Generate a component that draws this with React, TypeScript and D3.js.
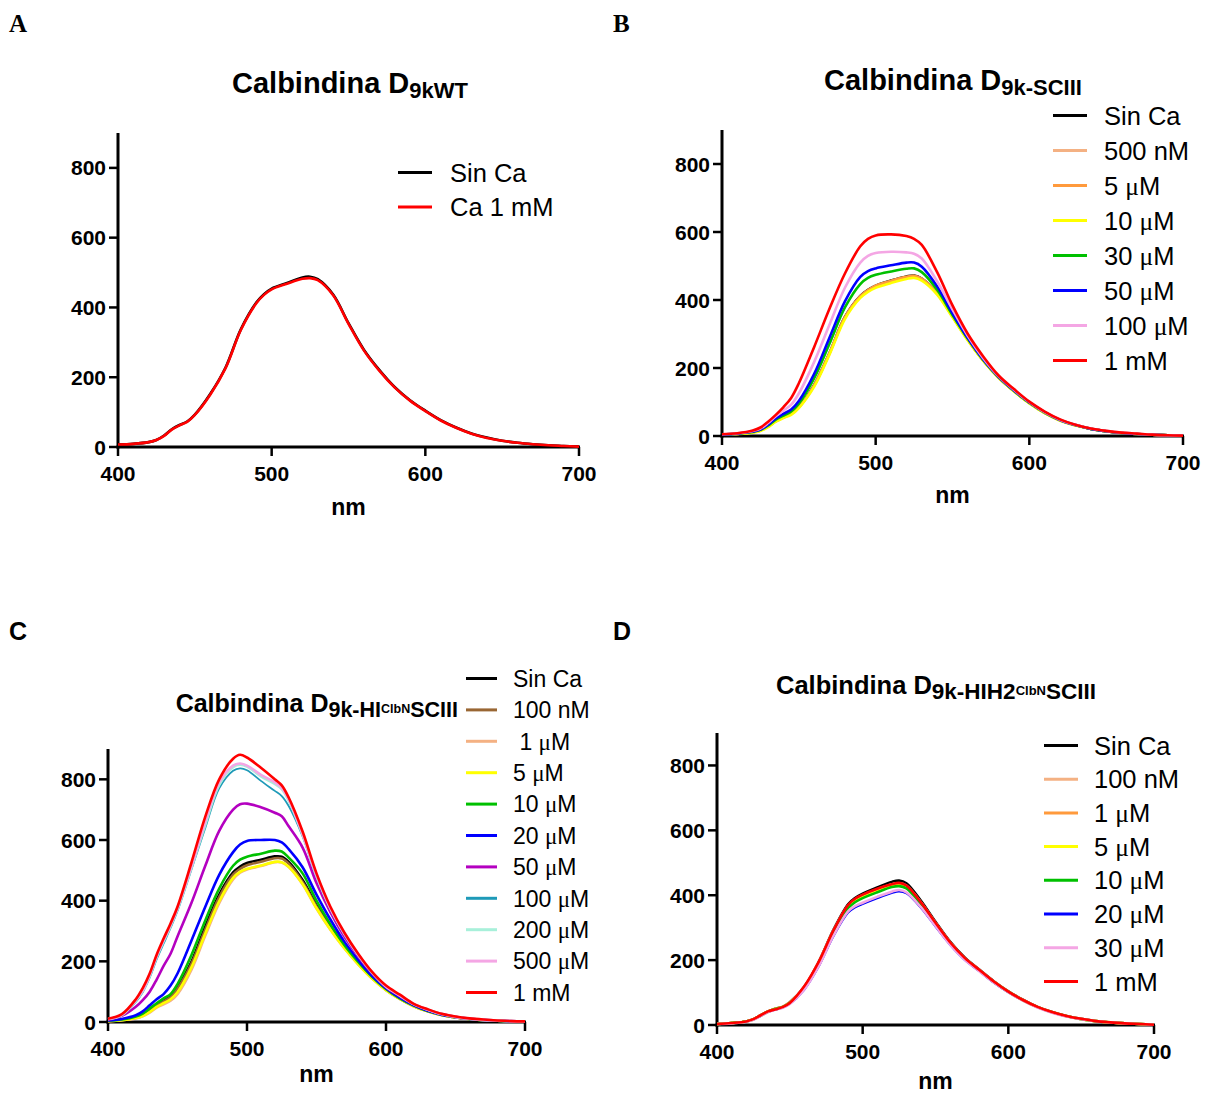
import React from "react";
import * as d3 from "d3";

// ---------- data ----------
const WL = [400, 410, 420, 425, 430, 435, 440, 445, 450, 460, 470, 480, 490, 495, 500, 510, 520, 525, 530, 540, 550, 560, 570, 580, 590, 600, 610, 620, 630, 640, 650, 660, 670, 680, 690, 700];
const Y_TICKS = [0, 200, 400, 600, 800];
const X_TICKS = [400, 500, 600, 700];

// Panel A
const A_SIN_CA = [7, 9, 14, 20, 33, 51, 63, 73, 93, 152, 228, 338, 414, 438, 454, 470, 486, 488, 481, 437, 355, 279, 221, 172, 134, 104, 77, 56, 39, 27, 18, 12, 8, 5, 3, 1];
const A_CA_1MM = [7, 9, 14, 20, 32, 50, 62, 72, 92, 150, 226, 336, 412, 436, 452, 468, 482, 484, 478, 435, 353, 277, 219, 171, 133, 103, 76, 55, 38, 26, 18, 12, 8, 5, 3, 1];

// Panel B
const B_SIN_CA = [4, 6, 11, 16, 28, 44, 55, 65, 85, 150, 245, 350, 412, 430, 442, 457, 469, 472, 463, 420, 352, 283, 222, 172, 132, 97, 68, 46, 32, 21, 14, 9, 6, 4, 2, 1];
const B_500NM = [4, 6, 11, 16, 28, 43, 54, 64, 84, 148, 243, 348, 410, 428, 441, 456, 467, 470, 462, 419, 351, 282, 222, 172, 132, 97, 68, 46, 32, 21, 14, 9, 6, 4, 2, 1];
const B_5UM = [4, 6, 11, 16, 28, 44, 55, 65, 85, 149, 244, 349, 411, 429, 442, 456, 468, 471, 462, 420, 352, 283, 222, 172, 132, 97, 68, 46, 32, 21, 14, 9, 6, 4, 2, 1];
const B_10UM = [4, 6, 10, 15, 26, 42, 53, 62, 82, 145, 240, 344, 406, 424, 436, 450, 462, 465, 457, 416, 349, 281, 221, 171, 131, 96, 67, 45, 31, 21, 14, 9, 6, 4, 2, 1];
const B_30UM = [4, 7, 12, 18, 31, 48, 60, 72, 95, 170, 272, 378, 447, 465, 474, 484, 492, 493, 482, 430, 356, 286, 224, 173, 133, 98, 69, 47, 32, 21, 14, 9, 6, 4, 2, 1];
const B_50UM = [4, 7, 13, 19, 33, 52, 65, 78, 103, 183, 290, 396, 468, 485, 493, 502, 510, 510, 498, 440, 361, 288, 225, 174, 134, 99, 70, 47, 32, 21, 14, 9, 6, 4, 2, 1];
const B_100UM = [5, 8, 15, 22, 38, 58, 75, 92, 125, 218, 328, 436, 510, 530, 538, 542, 540, 536, 522, 455, 372, 294, 229, 176, 136, 100, 70, 48, 33, 22, 15, 10, 7, 4, 2, 1];
const B_1MM = [5, 8, 16, 25, 42, 62, 85, 112, 155, 262, 375, 478, 558, 580, 590, 593, 588, 580, 562, 482, 384, 300, 234, 178, 138, 101, 72, 49, 33, 22, 15, 10, 7, 4, 2, 1];

// Panel C
const C_SIN_CA = [4, 7, 16, 25, 40, 57, 70, 85, 115, 198, 315, 420, 493, 512, 524, 535, 546, 545, 528, 468, 385, 312, 248, 194, 146, 107, 77, 53, 36, 23, 15, 10, 6, 4, 2, 1];
const C_100NM = [4, 7, 15, 24, 38, 55, 68, 82, 110, 192, 305, 412, 486, 505, 517, 528, 540, 539, 522, 462, 381, 309, 246, 192, 145, 106, 76, 52, 35, 23, 15, 10, 6, 4, 2, 1];
const C_1UM = [3, 6, 12, 19, 31, 47, 58, 70, 92, 172, 285, 392, 470, 492, 503, 514, 527, 526, 511, 454, 374, 304, 243, 190, 143, 105, 76, 52, 35, 23, 15, 10, 6, 4, 2, 1];
const C_5UM = [3, 6, 13, 20, 33, 50, 62, 75, 98, 180, 292, 398, 475, 495, 505, 516, 528, 527, 512, 455, 375, 305, 243, 190, 143, 105, 76, 52, 35, 23, 15, 10, 6, 4, 2, 1];
const C_10UM = [4, 8, 18, 28, 45, 62, 78, 92, 125, 220, 335, 440, 515, 535, 545, 555, 565, 562, 542, 490, 400, 322, 254, 198, 149, 109, 78, 54, 36, 24, 16, 10, 6, 4, 2, 1];
const C_20UM = [5, 10, 22, 35, 55, 75, 92, 120, 160, 268, 380, 485, 560, 585, 597, 600, 600, 592, 570, 510, 420, 338, 265, 205, 152, 111, 80, 55, 37, 24, 16, 10, 7, 4, 2, 1];
const C_50UM = [7, 20, 50, 72, 100, 140, 185, 225, 282, 392, 515, 630, 700, 718, 720, 708, 690, 678, 645, 575, 458, 362, 282, 216, 160, 115, 85, 58, 40, 26, 17, 11, 7, 5, 3, 1];
const C_100UM = [9, 22, 66, 98, 146, 206, 258, 310, 366, 502, 640, 770, 828, 836, 830, 795, 762, 745, 712, 612, 478, 372, 289, 220, 162, 116, 86, 58, 40, 26, 17, 11, 7, 5, 3, 1];
const C_200UM = [10, 23, 70, 102, 152, 214, 266, 316, 372, 508, 650, 782, 840, 848, 842, 810, 785, 768, 730, 618, 482, 374, 291, 221, 163, 117, 87, 59, 41, 26, 17, 11, 7, 5, 3, 2];
const C_500UM = [10, 24, 72, 104, 155, 217, 270, 320, 376, 512, 660, 790, 845, 852, 845, 815, 790, 772, 735, 620, 485, 375, 292, 222, 164, 117, 87, 59, 41, 26, 17, 11, 7, 5, 3, 2];
const C_1MM = [11, 26, 75, 112, 160, 222, 275, 325, 380, 525, 677, 800, 868, 881, 872, 838, 800, 780, 740, 628, 490, 380, 295, 225, 165, 120, 90, 60, 42, 27, 18, 12, 8, 5, 3, 2];

// Panel D
const D_SIN_CA = [3, 6, 11, 18, 30, 42, 50, 56, 70, 118, 196, 294, 372, 392, 405, 424, 441, 445, 437, 383, 318, 257, 208, 171, 135, 104, 78, 56, 40, 28, 19, 12, 8, 5, 3, 1];
const D_100NM = [3, 6, 11, 18, 30, 42, 50, 56, 70, 118, 195, 292, 368, 388, 400, 418, 434, 437, 430, 378, 315, 255, 207, 170, 134, 103, 77, 56, 40, 28, 19, 12, 8, 5, 3, 1];
const D_1UM = [3, 6, 11, 18, 30, 42, 50, 56, 69, 117, 194, 290, 366, 386, 398, 416, 432, 435, 428, 377, 314, 254, 206, 169, 133, 103, 77, 55, 39, 27, 18, 12, 8, 5, 3, 1];
const D_5UM = [3, 6, 11, 17, 29, 41, 49, 55, 68, 115, 192, 287, 362, 382, 394, 412, 428, 431, 424, 374, 312, 253, 205, 168, 133, 102, 76, 55, 39, 27, 18, 12, 8, 5, 3, 1];
const D_10UM = [3, 6, 11, 17, 29, 41, 49, 55, 68, 114, 190, 285, 360, 379, 391, 409, 425, 428, 421, 372, 311, 252, 205, 168, 132, 102, 76, 55, 39, 27, 18, 12, 8, 5, 3, 1];
const D_20UM = [3, 5, 10, 16, 27, 39, 46, 52, 64, 108, 180, 272, 345, 362, 372, 390, 406, 411, 405, 360, 302, 246, 200, 165, 130, 100, 75, 54, 38, 26, 18, 12, 8, 5, 3, 1];
const D_30UM = [3, 5, 10, 16, 28, 40, 47, 53, 65, 110, 183, 276, 350, 367, 377, 395, 411, 416, 409, 363, 305, 248, 202, 166, 131, 101, 75, 54, 38, 26, 18, 12, 8, 5, 3, 1];
const D_1MM = [3, 6, 11, 18, 30, 42, 48, 55, 68, 120, 196, 292, 370, 390, 402, 420, 434, 438, 430, 378, 315, 255, 207, 170, 134, 103, 77, 56, 40, 28, 19, 12, 8, 5, 3, 1];

// ---------- styles ----------
const COL = {
  black: "#000000",
  peach: "#F4B183",
  orange: "#FF9A3C",
  yellow: "#FFFF00",
  green: "#00C000",
  blue: "#0000FF",
  pink: "#F4A6E4",
  red: "#FF0000",
  brown: "#996633",
  purple: "#B400C0",
  teal: "#1E9AB8",
  mint: "#A8F0DA",
};
const SANS = "Arial, 'Liberation Sans', sans-serif";
const SERIF = "'Times New Roman', 'Liberation Serif', serif";

type Series = { label: string; color: string; values: number[]; width?: number };

const SERIES_A: Series[] = [
  { label: "Sin Ca", color: COL.black, values: A_SIN_CA },
  { label: "Ca 1 mM", color: COL.red, values: A_CA_1MM },
];
const SERIES_B: Series[] = [
  { label: "Sin Ca", color: COL.black, values: B_SIN_CA },
  { label: "500 nM", color: COL.peach, values: B_500NM },
  { label: "5 μM", color: COL.orange, values: B_5UM },
  { label: "10 μM", color: COL.yellow, values: B_10UM },
  { label: "30 μM", color: COL.green, values: B_30UM },
  { label: "50 μM", color: COL.blue, values: B_50UM },
  { label: "100 μM", color: COL.pink, values: B_100UM },
  { label: "1 mM", color: COL.red, values: B_1MM },
];
const SERIES_C: Series[] = [
  { label: "Sin Ca", color: COL.black, values: C_SIN_CA },
  { label: "100 nM", color: COL.brown, values: C_100NM },
  { label: " 1 μM", color: COL.peach, values: C_1UM },
  { label: "5 μM", color: COL.yellow, values: C_5UM },
  { label: "10 μM", color: COL.green, values: C_10UM },
  { label: "20 μM", color: COL.blue, values: C_20UM },
  { label: "50 μM", color: COL.purple, values: C_50UM },
  { label: "100 μM", color: COL.teal, values: C_100UM, width: 1.8 },
  { label: "200 μM", color: COL.mint, values: C_200UM },
  { label: "500 μM", color: COL.pink, values: C_500UM },
  { label: "1 mM", color: COL.red, values: C_1MM },
];
const SERIES_D: Series[] = [
  { label: "Sin Ca", color: COL.black, values: D_SIN_CA },
  { label: "100 nM", color: COL.peach, values: D_100NM },
  { label: "1 μM", color: COL.orange, values: D_1UM },
  { label: "5 μM", color: COL.yellow, values: D_5UM },
  { label: "10 μM", color: COL.green, values: D_10UM },
  { label: "20 μM", color: COL.blue, values: D_20UM, width: 1.5 },
  { label: "30 μM", color: COL.pink, values: D_30UM },
  { label: "1 mM", color: COL.red, values: D_1MM },
];

type TitlePart = { t: string; kind: "main" | "sub" | "sup" };

type PanelCfg = {
  letter: string;
  letterSerif: boolean;
  letterX: number;
  letterY: number;
  x0: number; x1: number; yB: number; yT: number;
  title: TitlePart[];
  titleX: number; titleY: number; titleAnchor: "middle" | "end";
  titleSizes: [number, number, number];
  legX0: number; legX1: number; legTextX: number; legY0: number; legDy: number; legFont: number;
  nmDy: number;
  series: Series[];
};

const PANELS: PanelCfg[] = [
  {
    letter: "A", letterSerif: true, letterX: 9, letterY: 32,
    x0: 118, x1: 579, yB: 447, yT: 133,
    title: [{ t: "Calbindina D", kind: "main" }, { t: "9kWT", kind: "sub" }],
    titleX: 350, titleY: 93, titleAnchor: "middle", titleSizes: [29, 22, 13],
    legX0: 398, legX1: 432, legTextX: 450, legY0: 172.5, legDy: 34.5, legFont: 25.5,
    nmDy: 68, series: SERIES_A,
  },
  {
    letter: "B", letterSerif: true, letterX: 613, letterY: 32,
    x0: 722, x1: 1183, yB: 436, yT: 130,
    title: [{ t: "Calbindina D", kind: "main" }, { t: "9k-SCIII", kind: "sub" }],
    titleX: 953, titleY: 90, titleAnchor: "middle", titleSizes: [29, 22, 13],
    legX0: 1053, legX1: 1087, legTextX: 1104, legY0: 115.5, legDy: 35, legFont: 25.5,
    nmDy: 67, series: SERIES_B,
  },
  {
    letter: "C", letterSerif: false, letterX: 9, letterY: 640,
    x0: 108, x1: 525, yB: 1022, yT: 749,
    title: [
      { t: "Calbindina D", kind: "main" },
      { t: "9k-HI", kind: "sub" },
      { t: "ClbN", kind: "sup" },
      { t: "SCIII", kind: "sub" },
    ],
    titleX: 458, titleY: 712, titleAnchor: "end", titleSizes: [25, 21.5, 12.5],
    legX0: 466, legX1: 497, legTextX: 513, legY0: 678.5, legDy: 31.4, legFont: 23,
    nmDy: 60, series: SERIES_C,
  },
  {
    letter: "D", letterSerif: false, letterX: 613, letterY: 640,
    x0: 717, x1: 1154, yB: 1025, yT: 733,
    title: [
      { t: "Calbindina D", kind: "main" },
      { t: "9k-HIH2", kind: "sub" },
      { t: "ClbN", kind: "sup" },
      { t: "SCIII", kind: "sub" },
    ],
    titleX: 936, titleY: 694, titleAnchor: "middle", titleSizes: [25.5, 22.5, 13],
    legX0: 1044, legX1: 1078, legTextX: 1094, legY0: 745.5, legDy: 33.7, legFont: 25.5,
    nmDy: 64, series: SERIES_D,
  },
];

function LegendLabel({ label }: { label: string }) {
  const parts = label.split("μ");
  if (parts.length === 1) return <>{label}</>;
  return (
    <>
      <tspan>{parts[0]}</tspan>
      <tspan fontFamily={SERIF}>μ</tspan>
      <tspan>{parts[1]}</tspan>
    </>
  );
}

function Title({ cfg }: { cfg: PanelCfg }) {
  let current = 0;
  const [mainSize, subSize, supSize] = cfg.titleSizes;
  const items = cfg.title.map((p, i) => {
    let target = 0;
    let size = mainSize;
    if (p.kind === "sub") { target = 5; size = subSize; }
    if (p.kind === "sup") { target = 1; size = supSize; }
    const dy = target - current;
    current = target;
    return (
      <tspan key={i} dy={dy} fontSize={size}>{p.t}</tspan>
    );
  });
  return (
    <text x={cfg.titleX} y={cfg.titleY} textAnchor={cfg.titleAnchor} fontFamily={SANS} fontWeight="bold" fill="#000">
      {items}
    </text>
  );
}

function Panel({ cfg }: { cfg: PanelCfg }) {
  const x = d3.scaleLinear().domain([400, 700]).range([cfg.x0, cfg.x1]);
  const y = d3.scaleLinear().domain([0, 900]).range([cfg.yB, cfg.yT]);
  const line = d3
    .line<number>()
    .x((_, i) => x(WL[i]))
    .y((d) => y(d))
    .curve(d3.curveCatmullRom.alpha(0.5));
  const AX = 3;
  return (
    <g>
      <text
        x={cfg.letterX}
        y={cfg.letterY}
        fontFamily={cfg.letterSerif ? SERIF : SANS}
        fontWeight="bold"
        fontSize={25}
      >
        {cfg.letter}
      </text>
      <Title cfg={cfg} />
      {/* axes */}
      <line x1={cfg.x0} x2={cfg.x0} y1={cfg.yT} y2={cfg.yB + AX / 2} stroke="#000" strokeWidth={AX} />
      <line x1={cfg.x0 - AX / 2} x2={cfg.x1 + 1} y1={cfg.yB} y2={cfg.yB} stroke="#000" strokeWidth={AX} />
      {Y_TICKS.map((t) => (
        <g key={"y" + t}>
          <line x1={cfg.x0 - 9} x2={cfg.x0} y1={y(t)} y2={y(t)} stroke="#000" strokeWidth={2.5} />
          <text x={cfg.x0 - 12} y={y(t)} dy="0.36em" textAnchor="end" fontFamily={SANS} fontWeight="bold" fontSize={21}>
            {t}
          </text>
        </g>
      ))}
      {X_TICKS.map((t) => (
        <g key={"x" + t}>
          <line x1={x(t)} x2={x(t)} y1={cfg.yB} y2={cfg.yB + 9} stroke="#000" strokeWidth={2.5} />
          <text x={x(t)} y={cfg.yB + 34} textAnchor="middle" fontFamily={SANS} fontWeight="bold" fontSize={21}>
            {t}
          </text>
        </g>
      ))}
      <text x={(cfg.x0 + cfg.x1) / 2} y={cfg.yB + cfg.nmDy} textAnchor="middle" fontFamily={SANS} fontWeight="bold" fontSize={23}>
        nm
      </text>
      {/* curves */}
      {cfg.series.map((s, i) => (
        <path key={i} d={line(s.values) || ""} fill="none" stroke={s.color} strokeWidth={s.width ?? 2.6} strokeLinejoin="round" />
      ))}
      {/* legend */}
      {cfg.series.map((s, i) => {
        const ly = cfg.legY0 + i * cfg.legDy;
        return (
          <g key={"l" + i}>
            <line x1={cfg.legX0} x2={cfg.legX1} y1={ly} y2={ly} stroke={s.color} strokeWidth={3} />
            <text x={cfg.legTextX} y={ly} dy="0.36em" fontFamily={SANS} fontSize={cfg.legFont} fill="#000" style={{ whiteSpace: "pre" }}>
              <LegendLabel label={s.label} />
            </text>
          </g>
        );
      })}
    </g>
  );
}

export default function App() {
  return (
    <svg
      width={1206}
      height={1094}
      viewBox="0 0 1206 1094"
      style={{ position: "absolute", left: 0, top: 0, background: "#fff" }}
    >
      <rect x={0} y={0} width={1206} height={1094} fill="#fff" />
      {PANELS.map((p) => (
        <Panel key={p.letter} cfg={p} />
      ))}
    </svg>
  );
}
